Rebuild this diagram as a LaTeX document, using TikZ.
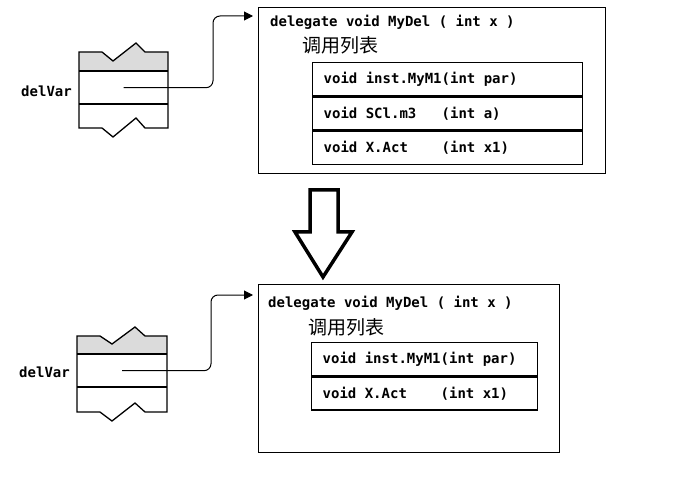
\documentclass[tikz,border=0pt]{standalone}
\usepackage{fontspec}
\usetikzlibrary{arrows.meta,calc}
\newfontfamily\codefont{DejaVu Sans Mono Bold}
\newfontfamily\cjkfont{Noto Sans CJK SC}
\newcommand{\csp}{\hbox to 0.602em{\hss}}
\begin{document}
\begin{tikzpicture}[x=1pt,y=-1pt,
  bigbox/.style={draw, line width=1.3pt, inner sep=0pt, anchor=north west},
  code/.style={font=\codefont\fontsize{14}{17}\selectfont, inner sep=0pt, anchor=west},
  cjk/.style={font=\cjkfont\fontsize{19}{22}\selectfont, inner sep=0pt, anchor=west},
  row/.style={draw, line width=1.3pt, anchor=north west, minimum height=33pt,
    inner xsep=11pt, inner ysep=0pt, align=left,
    font=\codefont\fontsize{14}{17}\selectfont},
  cell/.style={inner sep=0pt, anchor=north west},
  ptr/.style={-{Triangle[length=9pt,width=9pt]}, line width=1pt, rounded corners=7pt},
  stackline/.style={line width=1.3pt, line join=miter},
  shade/.style={fill=gray!28},
  bigarrow/.style={draw, line width=3.5pt, line join=miter, fill=white}]
\useasboundingbox (0,0) rectangle (688,489);

% ---------------- top part ----------------
\fill[shade] (79,52)--(102,52)--(113,61)--(136,43)--(145,52)--(168,52)--(168,71)--(79,71)--cycle;
\draw[stackline] (79,52)--(102,52)--(113,61)--(136,43)--(145,52)--(168,52)--(168,128)--(145,128)--(136,118)--(113,137)--(102,128)--(79,128)--cycle;
\draw[stackline] (79,71)--(168,71) (79,104)--(168,104);
\node[cell, minimum width=89pt, minimum height=33pt] (v1) at (79,71) {};
\node[code, anchor=east] (lab1) at (72,91) {delVar};

\node[bigbox, minimum width=347pt, minimum height=166pt] (D1) at (258,7) {};
\node[code] (h1) at (270,22) {delegate\csp void\csp MyDel\csp (\csp int\csp x\csp )};
\node[cjk] (c1) at (302,45) {调用列表};
\node[row, text width=248pt] (r11) at (312,62) {void\csp inst.MyM1(int\csp par)};
\node[row, text width=248pt] (r12) at (r11.south west) {void\csp SCl.m3\csp\csp\csp (int\csp a)};
\node[row, text width=248pt] (r13) at (r12.south west) {void\csp X.Act\csp\csp\csp\csp (int\csp x1)};

\coordinate (t1) at (253,16);
\draw[ptr] (v1.center) -| ($(t1)+(-40,0)$) -- (t1);

% ---------------- big arrow ----------------
\draw[bigarrow] (310,190)--(338,190)--(338,232)--(352,232)--(323,277)--(295,232)--(310,232)--cycle;

% ---------------- bottom part ----------------
\fill[shade] (77,336)--(100,336)--(112,344)--(135,327)--(145,336)--(167,336)--(167,354)--(77,354)--cycle;
\draw[stackline] (77,336)--(100,336)--(112,344)--(135,327)--(145,336)--(167,336)--(167,412)--(145,412)--(135,403)--(112,421)--(100,412)--(77,412)--cycle;
\draw[stackline] (77,354)--(167,354) (77,387)--(167,387);
\node[cell, minimum width=90pt, minimum height=33pt] (v2) at (77,354) {};
\node[code, anchor=east] (lab2) at (70,372) {delVar};

\node[bigbox, minimum width=301pt, minimum height=168pt] (D2) at (258,284) {};
\node[code] (h2) at (268,303) {delegate\csp void\csp MyDel\csp (\csp int\csp x\csp )};
\node[cjk] (c2) at (308,327) {调用列表};
\node[row, text width=204pt] (r21) at (311,342) {void\csp inst.MyM1(int\csp par)};
\node[row, text width=204pt] (r22) at (r21.south west) {void\csp X.Act\csp\csp\csp\csp (int\csp x1)};

\coordinate (t2) at (253,295);
\draw[ptr] (v2.center) -| ($(t2)+(-42,0)$) -- (t2);
\end{tikzpicture}
\end{document}
